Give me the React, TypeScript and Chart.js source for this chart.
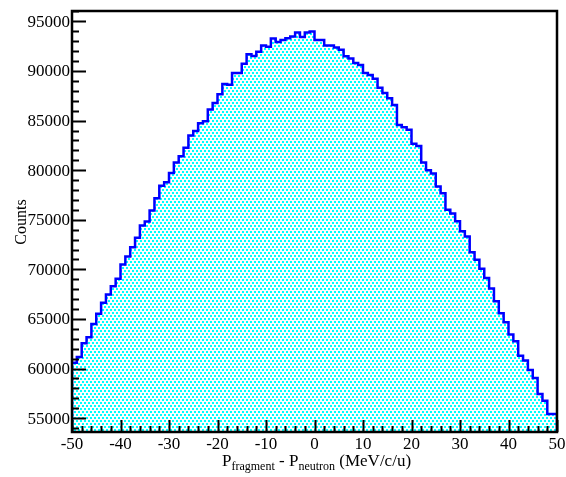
import React, { useEffect, useRef } from "react";
import { Chart, registerables } from "chart.js";

Chart.register(...registerables);

// Histogram binning: 100 bins of 1 MeV/c/u from -50 to 50
const X_MIN = -50;
const X_MAX = 50;
const BIN_WIDTH = 1;

// Counts per bin, from the lowest bin to the highest
const counts: number[] = [
  59800, 60570, 61150, 62550, 63160, 64500, 65520, 66630, 67460, 68300,
  69050, 70490, 71300, 72240, 73190, 74430, 74830, 75940, 77180, 78430,
  78780, 79720, 80780, 81400, 82260, 83500, 83960, 84740, 84940, 86120,
  86780, 87650, 88700, 88620, 89790, 89790, 90730, 91700, 91520, 91950,
  92560, 92440, 93280, 92920, 93130, 93290, 93470, 93890, 93440, 93880,
  93990, 93120, 93120, 92580, 92580, 92380, 92150, 91480, 91260, 90800,
  90600, 89800, 89590, 89220, 88310, 87790, 87250, 86580, 84560, 84340,
  84070, 82660, 82450, 80770, 80000, 79660, 78350, 77680, 76000, 75630,
  74850, 73830, 73310, 71720, 70960, 70050, 69140, 68060, 66780, 65570,
  64660, 63420, 62740, 61300, 60800, 59850, 59050, 57430, 56760, 55420,
];

// Axis ranges and labelled ticks
const Y_MIN = 53600;
const Y_MAX = 96050;
const xTickValues: number[] = [-50, -40, -30, -20, -10, 0, 10, 20, 30, 40, 50];
const xTickLabels: string[] = ["-50", "-40", "-30", "-20", "-10", "0", "10", "20", "30", "40", "50"];
const yTickValues: number[] = [55000, 60000, 65000, 70000, 75000, 80000, 85000, 90000, 95000];
const yTickLabels: string[] = ["55000", "60000", "65000", "70000", "75000", "80000", "85000", "90000", "95000"];
const X_MINOR_STEP = 2;
const Y_MINOR_STEP = 1000;

const yTitle = "Counts";

const SERIF = '"Liberation Serif", "DejaVu Serif", serif';

// Dotted cyan fill tile: 2x2 dots on staggered rows
function makeDotPattern(ctx: CanvasRenderingContext2D): CanvasPattern | string {
  const tile = document.createElement("canvas");
  tile.width = 4;
  tile.height = 6;
  const t = tile.getContext("2d");
  if (!t) return "#00ffff";
  t.fillStyle = "#ffffff";
  t.fillRect(0, 0, 4, 6);
  t.fillStyle = "#00ffff";
  t.fillRect(0, 0, 2, 2);
  t.fillRect(2, 3, 2, 2);
  return ctx.createPattern(tile, "repeat") || "#00ffff";
}

// Frame, inward ticks, tick labels and axis titles in the ROOT style
const frameAndAxes = {
  id: "frameAndAxes",
  afterDraw(chart: any) {
    const ctx: CanvasRenderingContext2D = chart.ctx;
    const area = chart.chartArea;
    const xs = chart.scales.x;
    const ys = chart.scales.y;
    ctx.save();

    ctx.strokeStyle = "#000000";
    ctx.lineWidth = 2;

    // y ticks (left side only)
    ctx.beginPath();
    for (let v = Math.ceil(Y_MIN / Y_MINOR_STEP) * Y_MINOR_STEP; v <= Y_MAX; v += Y_MINOR_STEP) {
      const y = Math.round(ys.getPixelForValue(v)) + 0.5;
      const major = yTickValues.indexOf(v) >= 0;
      ctx.moveTo(area.left, y);
      ctx.lineTo(area.left + (major ? 14 : 7), y);
    }
    // x ticks (bottom side only)
    for (let v = X_MIN; v <= X_MAX; v += X_MINOR_STEP) {
      const x = Math.round(xs.getPixelForValue(v)) + 0.5;
      const major = xTickValues.indexOf(v) >= 0;
      ctx.moveTo(x, area.bottom);
      ctx.lineTo(x, area.bottom - (major ? 12 : 6));
    }
    ctx.stroke();

    // frame
    ctx.lineWidth = 2.5;
    ctx.strokeRect(area.left, area.top, area.right - area.left, area.bottom - area.top);

    // tick labels
    ctx.fillStyle = "#000000";
    ctx.font = `17px ${SERIF}`;
    ctx.textAlign = "right";
    ctx.textBaseline = "middle";
    yTickValues.forEach((v, i) => {
      ctx.fillText(yTickLabels[i], area.left - 2, ys.getPixelForValue(v) + 1);
    });
    ctx.textAlign = "center";
    ctx.textBaseline = "top";
    xTickValues.forEach((v, i) => {
      ctx.fillText(xTickLabels[i], xs.getPixelForValue(v), area.bottom + 4);
    });

    // y title
    ctx.save();
    ctx.translate(22, 222);
    ctx.rotate(-Math.PI / 2);
    ctx.font = `16px ${SERIF}`;
    ctx.textAlign = "center";
    ctx.textBaseline = "middle";
    ctx.fillText(yTitle, 0, 0);
    ctx.restore();

    // x title with subscripts
    const parts: { text: string; sub: boolean }[] = [
      { text: "P", sub: false },
      { text: "fragment", sub: true },
      { text: " - P", sub: false },
      { text: "neutron", sub: true },
      { text: " (MeV/c/u)", sub: false },
    ];
    ctx.textAlign = "left";
    ctx.textBaseline = "alphabetic";
    let cx = 222;
    const base = 466;
    parts.forEach((p) => {
      ctx.font = p.sub ? `12px ${SERIF}` : `17px ${SERIF}`;
      ctx.fillText(p.text, cx, p.sub ? base + 4 : base);
      cx += ctx.measureText(p.text).width;
    });

    ctx.restore();
  },
};

export default function App() {
  const canvasRef = useRef<HTMLCanvasElement | null>(null);

  useEffect(() => {
    document.body.style.margin = "0";
    const canvas = canvasRef.current;
    if (!canvas) return;
    const ctx = canvas.getContext("2d");
    if (!ctx) return;

    // Bin edges with the histogram value held across each bin, closed down to the axis floor
    const points: { x: number; y: number }[] = [{ x: X_MIN, y: Y_MIN }];
    counts.forEach((c, i) => points.push({ x: X_MIN + i * BIN_WIDTH, y: c }));
    points.push({ x: X_MIN + counts.length * BIN_WIDTH, y: counts[counts.length - 1] });
    points.push({ x: X_MIN + counts.length * BIN_WIDTH, y: Y_MIN });

    const chart = new Chart(ctx, {
      type: "line",
      data: {
        datasets: [
          {
            data: points,
            stepped: "after",
            borderColor: "#0000ff",
            borderWidth: 2.5,
            backgroundColor: makeDotPattern(ctx) as any,
            fill: "start",
            pointRadius: 0,
            tension: 0,
          },
        ],
      },
      options: {
        responsive: false,
        animation: false,
        devicePixelRatio: 1,
        layout: { padding: { left: 72, top: 11, right: 9, bottom: 45 } },
        plugins: { legend: { display: false }, tooltip: { enabled: false } },
        scales: {
          x: { type: "linear", min: X_MIN, max: X_MAX, display: false },
          y: { type: "linear", min: Y_MIN, max: Y_MAX, display: false },
        },
      },
      plugins: [frameAndAxes],
    });

    return () => chart.destroy();
  }, []);

  return (
    <div style={{ width: 566, height: 477, background: "#ffffff" }}>
      <canvas ref={canvasRef} width={566} height={477} style={{ display: "block" }} />
    </div>
  );
}
